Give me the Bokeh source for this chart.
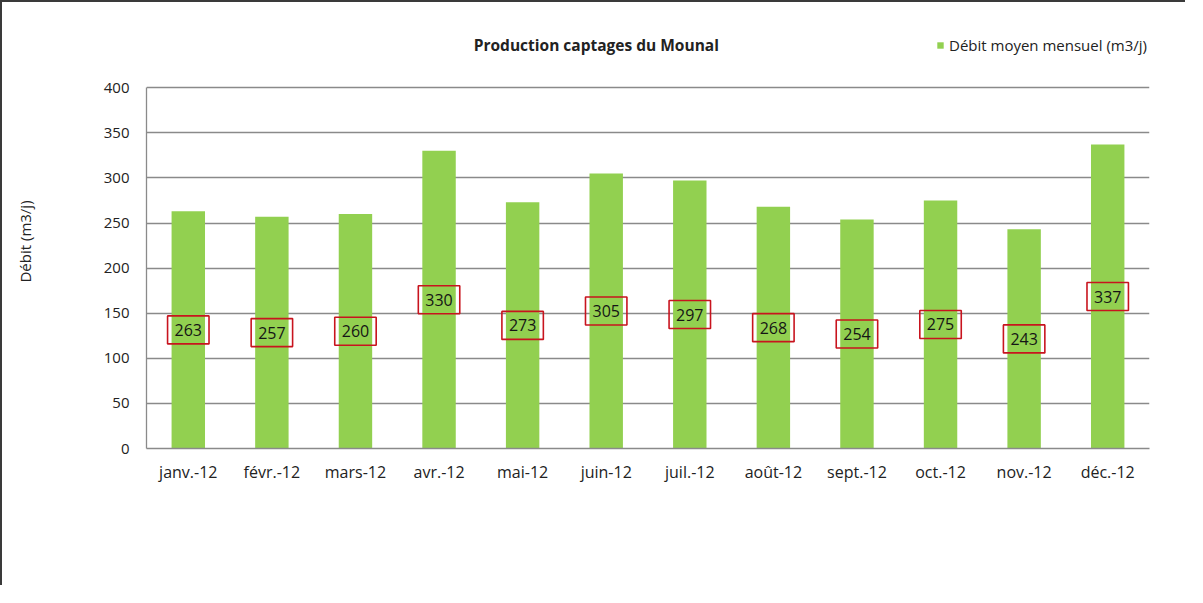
from bokeh.plotting import figure
from bokeh.models import ColumnDataSource, Legend, LegendItem, Label, FixedTicker
from bokeh.core.properties import value
from bokeh.embed import file_html
from bokeh.resources import INLINE

months = ["janv.-12", "févr.-12", "mars-12", "avr.-12", "mai-12", "juin-12",
          "juil.-12", "août-12", "sept.-12", "oct.-12", "nov.-12", "déc.-12"]
debit = [263, 257, 260, 330, 273, 305, 297, 268, 254, 275, 243, 337]
y_ticks = [0, 50, 100, 150, 200, 250, 300, 350, 400]
series_name = "Débit moyen mensuel (m3/j)"
title_text = "Production  captages  du Mounal"
y_label = "Débit (m3/j)"

FONT = "Open Sans"
GREEN = "#92D050"
GRID = "#8a8a8a"

src = ColumnDataSource(dict(
    month=months,
    debit=debit,
    mid=[v / 2 for v in debit],
    txt=[str(v) for v in debit],
))

# frame reaches up to the header band so that title and legend sit inside it
p = figure(x_range=months, y_range=(0, 459), width=1185, height=585,
           output_backend="svg", toolbar_location=None,
           min_border_left=144, min_border_right=38,
           min_border_top=32, min_border_bottom=139)
p.styles = {"border-top": "2px solid #3a3a3a", "border-left": "2px solid #3a3a3a"}

bars = p.vbar(x="month", top="debit", width=0.4, source=src,
              fill_color=GREEN, line_color=None)

p.text(x="month", y="mid", text="txt", source=src,
       text_align="center", text_baseline="middle",
       text_font=value(FONT), text_font_size="16px", text_color="#151515",
       border_line_color="#C8141E", border_line_width=1.6,
       padding=[7, 7, 8, 8])

p.outline_line_color = None
p.xgrid.grid_line_color = None
p.ygrid.grid_line_color = GRID
p.ygrid.grid_line_width = 1.3
p.yaxis.ticker = FixedTicker(ticks=y_ticks)
p.yaxis.bounds = (y_ticks[0], y_ticks[-1])

for ax in (p.xaxis, p.yaxis):
    ax.axis_line_color = GRID
    ax.axis_line_width = 1.3
    ax.major_tick_line_color = None
    ax.minor_tick_line_color = None
    ax.major_tick_out = 0
    ax.major_tick_in = 0
    ax.major_label_text_font = FONT
    ax.major_label_text_color = "#222222"

p.xaxis.major_label_text_font_size = "16px"
p.yaxis.major_label_text_font_size = "15px"
p.xaxis.major_label_standoff = 12
p.yaxis.major_label_standoff = 17
p.yaxis.axis_label = y_label
p.yaxis.axis_label_text_font = FONT
p.yaxis.axis_label_text_font_style = "normal"
p.yaxis.axis_label_text_font_size = "15px"
p.yaxis.axis_label_text_color = "#222222"
p.yaxis.axis_label_standoff = 66

p.add_layout(Label(x=5.43, y=447, text=title_text,
                   text_align="center", text_baseline="middle",
                   text_font=FONT, text_font_size="15.5px", text_font_style="bold",
                   text_color="#222222"))

legend = Legend(items=[LegendItem(label=series_name, renderers=[bars])],
                location=(790, 393), padding=0, margin=0, spacing=0,
                glyph_width=8, glyph_height=8, label_standoff=5,
                label_height=16, label_text_font=FONT, label_text_font_size="15px",
                label_text_color="#222222",
                border_line_color=None, background_fill_alpha=0)
p.add_layout(legend, "center")

open("out.html", "w").write(file_html(p, INLINE))
